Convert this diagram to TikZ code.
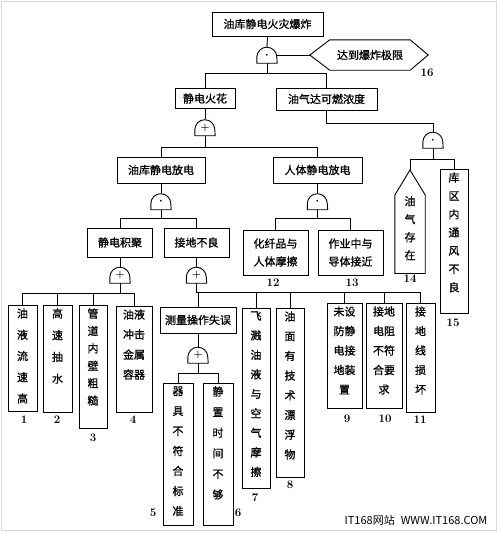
\documentclass[tikz,border=0pt]{standalone}
\usepackage{fontspec}
\newfontfamily\cjk[FakeBold=1]{Noto Sans CJK SC}
\newfontfamily\plaincjk{Noto Sans CJK SC}
\newcommand\andmark{{\fontsize{6}{6}\selectfont\textbullet}}
\newcommand\ormark{{\fontsize{10}{10}\selectfont\bfseries +}}
\begin{document}
\begin{tikzpicture}[x=1pt, y=1pt,
  event/.style={draw, line width=0.9pt, inner sep=0pt, align=center, font=\cjk\fontsize{11}{18}\selectfont},
  leaf/.style={draw, line width=0.9pt, anchor=north, inner xsep=0pt, inner ysep=3pt, align=center, font=\cjk\fontsize{11}{#1}\selectfont},
  gate/.style={inner sep=0pt, minimum width=20pt, minimum height=16pt},
  num/.style={inner sep=0pt, font=\fontsize{11.5}{11.5}\selectfont\bfseries},
  conn/.style={line width=0.9pt},
  ]
 \useasboundingbox (0,0) rectangle (500,-533);
 \draw[gray!30, line width=1.2pt] (1.5,-1.5) rectangle (496.5,-530.5);

 % top of the tree
 \node[event, minimum width=111pt, minimum height=24pt] (top) at (267.5,-24) {油库静电火灾爆炸};
 \node[gate] (g0) at (267,-55) {\andmark};
 \node[inner sep=0pt, minimum width=80pt, minimum height=30pt, font=\cjk\fontsize{11}{11}\selectfont] (hex) at (370,-55) {达到爆炸极限};
 \coordinate (hexl) at ([xshift=-20pt]hex.west);
 \node[num] (n16) at (427,-73) {16};
 \node[event, minimum width=60pt, minimum height=20pt] (spark) at (205,-98.5) {静电火花};
 \node[event, minimum width=101pt, minimum height=22pt] (vapour) at (326.5,-99) {油气达可燃浓度};
 \node[gate] (g1) at (205,-127.5) {\ormark};
 \node[gate] (g2) at (433,-140) {\andmark};

 % second level
 \node[event, minimum width=88pt, minimum height=26pt] (oil) at (161,-170) {油库静电放电};
 \node[event, minimum width=89pt, minimum height=26pt] (body) at (317.5,-170) {人体静电放电};
 \node[anchor=north, inner xsep=0pt, inner ysep=1pt, minimum width=30pt, align=center, text depth=12.9pt,
   font=\cjk\fontsize{11}{18}\selectfont] (e14) at (410,-195) {油\\气\\存\\在};
 \coordinate (t14) at ([yshift=25pt]e14.north);
 \node[num] (n14) at (410,-279) {14};
 \node[leaf=18.3, minimum width=28pt, text depth=19.1pt] (e15) at (454,-169) {库\\区\\内\\通\\风\\不\\良};
 \node[num] (n15) at (453,-323) {15};
 \node[gate] (g3) at (161,-201.5) {\andmark};
 \node[gate] (g4) at (317.5,-201.5) {\andmark};

 % third level
 \node[event, minimum width=65pt, minimum height=29pt] (accum) at (120,-242.5) {静电积聚};
 \node[event, minimum width=65pt, minimum height=29pt] (ground) at (196.5,-242.5) {接地不良};
 \node[event, minimum width=65pt, minimum height=45pt] (fiber) at (275.5,-252.5) {化纤品与\\人体摩擦};
 \node[event, minimum width=65pt, minimum height=45pt] (near) at (350.5,-252.5) {作业中与\\导体接近};
 \node[num] (n12) at (273,-283) {12};
 \node[num] (n13) at (352,-283) {13};
 \node[gate] (g5) at (120,-275) {\ormark};
 \node[gate] (g6) at (196.5,-275) {\ormark};

 % basic events
 \node[leaf=21.25, minimum width=29pt, text depth=5.9pt] (l1) at (22.5,-305) {油\\液\\流\\速\\高};
 \node[leaf=21.7, minimum width=29pt, text depth=26.8pt] (l2) at (57.5,-305) {高\\速\\抽\\水};
 \node[leaf=17.4, minimum width=28pt, text depth=20.9pt] (l3) at (93,-305) {管\\道\\内\\壁\\粗\\糙};
 \node[leaf=20, minimum width=36pt, text depth=30.9pt] (l4) at (134,-306) {油液\\冲击\\金属\\容器};
 \node[event, minimum width=76pt, minimum height=26pt] (measure) at (198,-320) {测量操作失误};
 \node[gate] (g7) at (198,-355) {\ormark};
 \node[leaf=20, minimum width=30pt, text depth=6.9pt] (l5) at (178,-383) {器\\具\\不\\符\\合\\标\\准};
 \node[leaf=20.6, minimum width=30pt, text depth=23.9pt] (l6) at (218,-383) {静\\置\\时\\间\\不\\够};
 \node[leaf=19.5, minimum width=28pt, text depth=9.9pt] (l7) at (256,-308) {飞\\溅\\油\\液\\与\\空\\气\\摩\\擦};
 \node[leaf=19.7, minimum width=28pt, text depth=16pt] (l8) at (290,-308) {油\\面\\有\\技\\术\\漂\\浮\\物};
 \node[leaf=19.5, minimum width=35pt, text depth=11.9pt] (l9) at (344.5,-303) {未设\\防静\\电接\\地装\\置};
 \node[leaf=19.5, minimum width=36pt, text depth=11.9pt] (l10) at (384,-303) {接地\\电阻\\不符\\合要\\求};
 \node[leaf=19.5, minimum width=29pt, text depth=15.9pt] (l11) at (420.5,-303) {接\\地\\线\\损\\坏};

 \node[num] (n1) at (24,-420) {1};
 \node[num] (n2) at (57,-420) {2};
 \node[num] (n3) at (93,-438) {3};
 \node[num] (n4) at (133,-420) {4};
 \node[num] (n5) at (153,-513) {5};
 \node[num] (n6) at (238,-513) {6};
 \node[num] (n7) at (255,-498) {7};
 \node[num] (n8) at (290,-485) {8};
 \node[num] (n9) at (347,-419) {9};
 \node[num] (n10) at (385,-419) {10};
 \node[num] (n11) at (420,-420) {11};

 \node[inner sep=0pt, font=\plaincjk\fontsize{11}{11}\selectfont] (mark) at (416,-520) {IT168网站\hspace{6pt}WWW.IT168.COM};

 % gates and odd shapes
 \foreach \g in {g0,g1,g2,g3,g4,g5,g6,g7}
   \draw[conn] (\g.south west) -- ++(0,6) arc[start angle=180, end angle=0, radius=10] -- (\g.south east) -- cycle;
 \draw[conn] (hex.north west) -- (hex.north east) -- ([xshift=18pt]hex.east) -- (hex.south east) -- (hex.south west) -- (hexl) -- cycle;
 \draw[conn] (e14.south west) -- (e14.north west) -- (t14) -- (e14.north east) -- (e14.south east) -- cycle;

 % connectors
 \draw[conn] (top.south) -- (g0.north);
 \draw[conn] (g0.east) -- (hexl);
 \foreach \c in {spark,vapour} \draw[conn] (g0.south) -- ++(0,-10) -| (\c.north);
 \draw[conn] (spark.south) -- (g1.north);
 \draw[conn] (vapour.south) -- ++(0,-13) -| (g2.north);
 \foreach \c in {oil,body} \draw[conn] (g1.south) -- ++(0,-12) -| (\c.north);
 \draw[conn] (g2.south) -- ++(0,-11) -| (t14);
 \draw[conn] (g2.south) -- ++(0,-11) -| (e15.north);
 \draw[conn] (oil.south) -- (g3.north);
 \draw[conn] (body.south) -- (g4.north);
 \foreach \c in {accum,ground} \draw[conn] (g3.south) -- ++(0,-9) -| (\c.north);
 \foreach \c in {fiber,near} \draw[conn] (g4.south) -- ++(0,-9) -| (\c.north);
 \draw[conn] (accum.south) -- (g5.north);
 \draw[conn] (ground.south) -- (g6.north);
 \foreach \c in {l1,l2,l3,l4} \draw[conn] (g5.south) -- ++(0,-10) -| (\c.north);
 \foreach \c in {measure,l7,l8,l9,l10,l11} \draw[conn] (g6.south) -- ++(0,-9) -| (\c.north);
 \draw[conn] (measure.south) -- (g7.north);
 \foreach \c in {l5,l6} \draw[conn] (g7.south) -- ++(0,-10) -| (\c.north);
\end{tikzpicture}
\end{document}
